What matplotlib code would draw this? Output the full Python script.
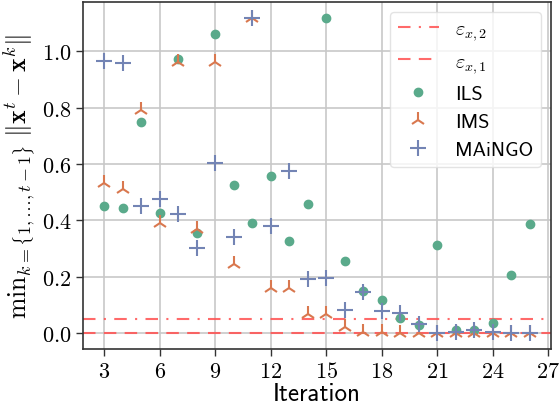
import numpy as np
import matplotlib
matplotlib.use("Agg")
import matplotlib.pyplot as plt
from matplotlib.ticker import FuncFormatter, MultipleLocator

plt.rcParams['mathtext.fontset'] = 'cm'

iterations = list(range(3, 27))
ils = [0.45, 0.443, 0.748, 0.425, 0.971, 0.355, 1.061, 0.527, 0.392, 0.556, 0.326, 0.457,
       1.119, 0.257, 0.148, 0.118, 0.055, 0.028, 0.313, 0.013, 0.013, 0.036, 0.205, 0.387]
ims = [0.532, 0.512, 0.793, 0.39, 0.962, 0.37, 0.962, 0.246, 1.118, 0.161, 0.161, 0.069,
       0.067, 0.022, 0.004, 0.003, 0.002, 0.002, 0.001, 0.002, 0.002, 0.002, 0.002, 0.002]
maingo = [0.964, 0.959, 0.45, 0.477, 0.424, 0.303, 0.603, 0.341, 1.118, 0.381, 0.574, 0.192,
          0.197, 0.083, 0.146, 0.08, 0.073, 0.033, 0.0, 0.004, 0.013, 0.004, 0.001, 0.001]
eps_x2 = 0.05
eps_x1 = 0.001

c_ils = '#5aaa8b'
c_ims = '#d9784f'
c_mai = '#7384b4'
c_eps = '#ff5050'

fig = plt.figure(figsize=(5.59, 4.14), dpi=100)
ax = fig.add_axes([0.1485, 0.1546, 0.8372, 0.8382])

ax.axhline(eps_x2, color=c_eps, alpha=0.85, lw=1.5, ls=(0, (6, 4, 1, 4)), label=r'$\varepsilon_{x,2}$', zorder=1.5)
ax.axhline(eps_x1, color=c_eps, alpha=0.85, lw=1.5, ls=(0, (6, 4)), label=r'$\varepsilon_{x,1}$', zorder=1.5)
ax.plot(iterations, ils, ls='none', marker='o', ms=6, color=c_ils, label='ILS', zorder=3)
ax.plot(iterations, ims, ls='none', marker='2', ms=11, mew=1.5, color=c_ims, label='IMS', zorder=3)
ax.plot(iterations, maingo, ls='none', marker='+', ms=11, mew=1.5, color=c_mai, label='MAiNGO', zorder=3)

ax.xaxis.set_major_locator(MultipleLocator(3))
ax.yaxis.set_major_locator(MultipleLocator(0.2))
ax.xaxis.set_major_formatter(FuncFormatter(lambda v, p: f'${int(round(v))}$'))
ax.yaxis.set_major_formatter(FuncFormatter(lambda v, p: f'${v:.1f}$'))
ax.tick_params(labelsize=16, length=5, width=1, color='#333333')
ax.grid(True, color='#c8c8c8', lw=1.2)
ax.set_axisbelow(True)
for s in ax.spines.values():
    s.set_color('#333333')
    s.set_linewidth(1.2)

ax.set_xlabel('Iteration', fontsize=18, fontfamily='cmss10', labelpad=1)
ax.set_ylabel(r'$\mathrm{min}_{k=\{1,\ldots,t-1\}}\ \Vert\mathbf{x}^t-\mathbf{x}^k\Vert$', fontsize=18.5, labelpad=3)

leg = ax.legend(loc='upper right', prop={'family': 'cmss10', 'size': 14.5}, framealpha=0.8,
                edgecolor='#dddddd', fancybox=True, handlelength=2.0)

fig.savefig('out.png', dpi=100)
